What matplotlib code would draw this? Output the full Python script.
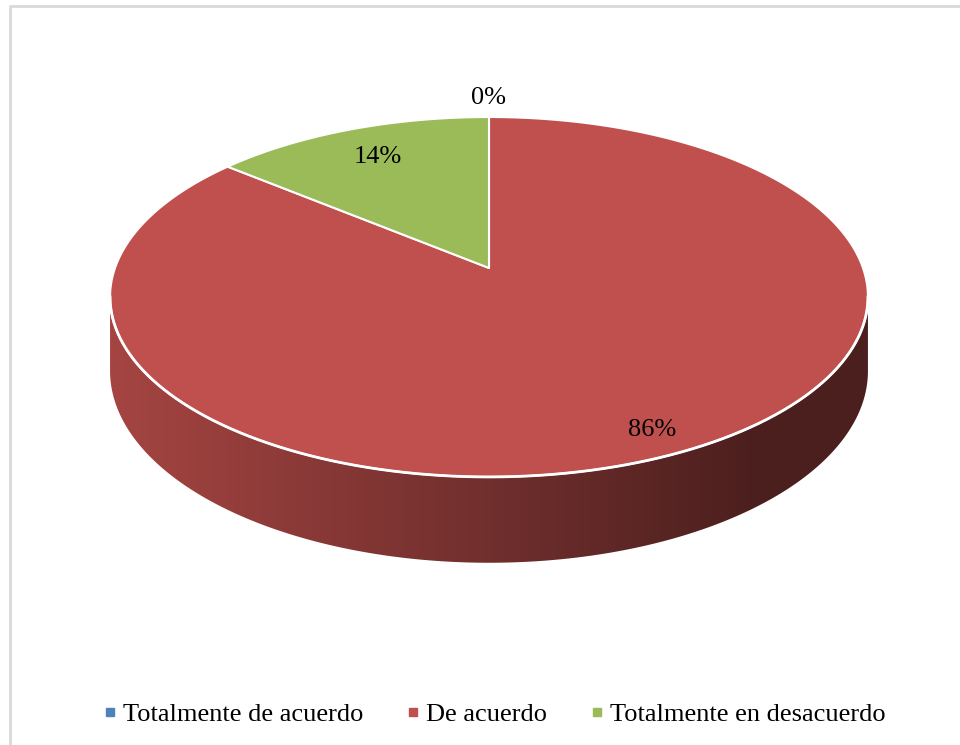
import numpy as np
import matplotlib.pyplot as plt
from matplotlib.patches import Polygon
from matplotlib.lines import Line2D
from matplotlib.colors import to_rgb

categories = ['Totalmente de acuerdo', 'De acuerdo', 'Totalmente en desacuerdo']
values = [0, 86, 14]
labels = ['0%', '86%', '14%']
colors = ['#4F81BD', '#C0504D', '#9BBB59']

# radial position of each data label (1 = pie edge)
label_r = [1.15, 0.89, 0.78]

W, H = 960, 745
# simple perspective disk: centre, half width, half depth, perspective strength
cx, cy = 489, 268
A, B, a = 374, 175.3, 0.161
drop = 72

fig = plt.figure(figsize=(W / 100, H / 100), dpi=100)
ax = fig.add_axes([0, 0, 1, 1])
ax.set_xlim(0, W)
ax.set_ylim(H, 0)
ax.axis('off')

font = 'Liberation Serif'

# frame
ax.plot([10, 10, W + 5], [H + 5, 6, 6], color='#d9d9d9', lw=2, solid_capstyle='butt')

total = float(sum(values))
cum = np.concatenate([[0], np.cumsum(values)]) / total
starts = 90 - 360 * cum[:-1]
ends = 90 - 360 * cum[1:]


def proj(theta, r=1.0, down=False):
    t = np.radians(theta)
    u, v = r * np.cos(t), r * np.sin(t)
    k = 1 + a * v
    x = cx + A * u / k
    y = cy - B * v / k
    if down:
        y += drop / k
    return x, y


# side wall, front part only, shaded left to right
t0 = 180 + np.degrees(np.arcsin(a))
t1 = 360 - np.degrees(np.arcsin(a))
xs = np.linspace(0, W, 960)
shade = 0.86 - 0.47 * np.clip((xs - 110) / 650, 0, 1)
for i, v in enumerate(values):
    if v == 0:
        continue
    # part of this slice that lies on the visible front
    s_lo, s_hi = ends[i], starts[i]
    lo, hi = None, None
    for off in (0, 360, -360, 720):
        l, h = max(s_lo + off, t0), min(s_hi + off, t1)
        if h > l:
            lo, hi = l, h
            break
    if lo is None:
        continue
    arc = np.linspace(lo, hi, 300)
    top = [proj(t) for t in arc]
    bot = [proj(t, down=True) for t in arc[::-1]]
    side = Polygon(top + bot, closed=True, facecolor='none', edgecolor='none')
    ax.add_patch(side)
    grad = np.array(to_rgb(colors[i]))[None, None, :] * shade[None, :, None]
    im = ax.imshow(grad, extent=[0, W, H, 0], aspect='auto', zorder=2,
                   interpolation='bilinear')
    im.set_clip_path(side)

ax.set_xlim(0, W)
ax.set_ylim(H, 0)

# top slices
for i, v in enumerate(values):
    if v == 0:
        continue
    arc = np.linspace(starts[i], ends[i], 300)
    pts = [(cx, cy)] + [proj(t) for t in arc]
    ax.add_patch(Polygon(pts, closed=True, facecolor=colors[i], edgecolor='white',
                         lw=1.5, joinstyle='round', zorder=3))

# white rim along the front edge
rim = np.array([proj(t) for t in np.linspace(t0, t1, 300)])
ax.plot(rim[:, 0], rim[:, 1], color='white', lw=2, zorder=4)

# data labels
for i, lab in enumerate(labels):
    mid = (starts[i] + ends[i]) / 2
    lx, ly = proj(mid, r=label_r[i])
    ax.text(lx, ly, lab, ha='center', va='center', fontsize=19, family=font, zorder=5)

# legend
handles = [Line2D([], [], marker='s', linestyle='none', markersize=6,
                  markerfacecolor=c, markeredgecolor=c) for c in colors]
ax.legend(handles, categories, loc='center', bbox_to_anchor=(0.515, 1 - 714 / H),
          ncol=3, frameon=False, handlelength=0.5, handletextpad=0.25,
          columnspacing=1.63, prop={'family': font, 'size': 19})

fig.savefig('out.png', dpi=100)
